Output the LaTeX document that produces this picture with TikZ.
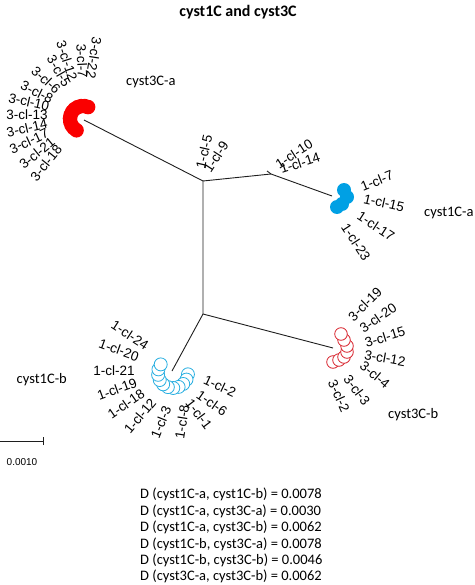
\documentclass[tikz,border=0pt]{standalone}
\usepackage{fontspec}
\setmainfont{Liberation Sans}
\newfontfamily\calfont{Carlito}
\definecolor{redA}{RGB}{250,0,0}
\definecolor{blueA}{RGB}{0,160,228}
\definecolor{cyanB}{RGB}{40,175,225}
\definecolor{redB}{RGB}{215,30,40}
\definecolor{branch}{RGB}{30,30,30}
\begin{document}
\begin{tikzpicture}[x=1pt,y=-1pt,
  lab/.style={inner sep=0pt,font=\fontsize{13.5}{15}\selectfont},
  grp/.style={inner sep=0pt,anchor=west,font=\calfont\fontsize{14.5}{16}\selectfont},
  edge/.style={draw=branch,line width=0.9pt},
  dot/.style={fill=redA},
  bdot/.style={fill=blueA},
  ring/.style={draw=cyanB,fill=white,line width=0.8pt},
  rring/.style={draw=redB,fill=white,line width=0.8pt}]
\useasboundingbox (0,0) rectangle (474,585);
% title
\node[inner sep=0pt,font=\calfont\bfseries\fontsize{16}{18}\selectfont] (title) at (238,12) {cyst1C and cyst3C};
% tree coordinates
\coordinate (A) at (203,181);
\coordinate (B) at (271,174);
\coordinate (Bs) at (267,171);
\coordinate (C) at (203,314);
\coordinate (ra) at (84,120);
\coordinate (ba) at (332,196);
\coordinate (cb) at (172,371);
\coordinate (rb) at (333,348);
\draw[edge] (ra) -- (A) -- (B) -- (ba);
\draw[edge] (Bs) -- (B);
\draw[edge] (A) -- (C) -- (cb);
\draw[edge] (C) -- (rb);
% cyst3C-a cluster (filled red)
\foreach \i in {0,...,11}
  \fill[dot] ({83+13*cos(293-\i*15.73)},{119+13*sin(293-\i*15.73)}) circle[radius=7.3];
% cyst1C-a cluster (filled blue)
\fill[bdot] (337,207) circle[radius=7];
\fill[bdot] (342,204) circle[radius=7];
\fill[bdot] (347,197) circle[radius=7];
\fill[bdot] (344,190) circle[radius=7];
% cyst1C-b cluster (open cyan)
\foreach \i in {10,...,0}
  \draw[ring] ({173+15*cos(215-\i*21)},{373+15*sin(215-\i*21)}) circle[radius=6.5];
% cyst3C-b cluster (open red)
\foreach \p in {(333,362),(339,360),(344,357),(347,352),(347,346),(344,340),(341,334)}
  \draw[rring] \p circle[radius=6.3];
% labels cyst3C-a
\node[lab,rotate=-99] (a22) at (94,58) {3-cl-22};
\node[lab,rotate=-87] (a7) at (82,61) {3-cl-7};
\node[lab,rotate=-72] (a12) at (67,61) {3-cl-12};
\node[lab,rotate=-60] (a5) at (59,71) {3-cl-5};
\node[lab,rotate=-43] (a6) at (46,80) {3-cl-6};
\node[lab,rotate=-26] (a8) at (37,92) {3-cl-8};
\node[lab,rotate=-13] (a10) at (29,102) {3-cl-10};
\node[lab,rotate=0] (a13) at (27,115) {3-cl-13};
\node[lab,rotate=13] (a14) at (27,128) {3-cl-14};
\node[lab,rotate=25] (a17) at (29,141) {3-cl-17};
\node[lab,rotate=39] (a21) at (37,153) {3-cl-21};
\node[lab,rotate=51] (a18) at (46,163) {3-cl-18};
% labels near A and B
\node[lab,rotate=77] (b5) at (204,152) {1-cl-5};
\node[lab,rotate=57] (b9) at (216,157) {1-cl-9};
\node[lab,rotate=33] (b10) at (294,154) {1-cl-10};
\node[lab,rotate=18] (b14) at (300,163) {1-cl-14};
% labels cyst1C-a
\node[lab,rotate=22] (c7) at (377,181) {1-cl-7};
\node[lab,rotate=-13] (c15) at (384,203) {1-cl-15};
\node[lab,rotate=-33] (c17) at (376,226) {1-cl-17};
\node[lab,rotate=-57] (c23) at (356,242) {1-cl-23};
% labels cyst1C-b
\node[lab,rotate=-33] (d24) at (130,335) {1-cl-24};
\node[lab,rotate=-20] (d20) at (119,350) {1-cl-20};
\node[lab,rotate=0] (d21) at (114,371) {1-cl-21};
\node[lab,rotate=20] (d19) at (117,389) {1-cl-19};
\node[lab,rotate=35] (d18) at (126,404) {1-cl-18};
\node[lab,rotate=50] (d12) at (140,416) {1-cl-12};
\node[lab,rotate=68] (d3) at (161,422) {1-cl-3};
\node[lab,rotate=81] (d8) at (182,422) {1-cl-8};
\node[lab,rotate=-53] (d1) at (199,414) {1-cl-1};
\node[lab,rotate=-35] (d6) at (212,403) {1-cl-6};
\node[lab,rotate=-25] (d2) at (220,386) {1-cl-2};
% labels cyst3C-b
\node[lab,rotate=45] (e19) at (365,304) {3-cl-19};
\node[lab,rotate=35] (e20) at (378,318) {3-cl-20};
\node[lab,rotate=17] (e15) at (385,337) {3-cl-15};
\node[lab,rotate=-10] (e12) at (385,358) {3-cl-12};
\node[lab,rotate=-40] (e4) at (375,375) {3-cl-4};
\node[lab,rotate=-53] (e3) at (357,390) {3-cl-3};
\node[lab,rotate=-66] (e2) at (339,396) {3-cl-2};
% group names
\node[grp] (g3a) at (126,82) {cyst3C-a};
\node[grp] (g1a) at (424,213) {cyst1C-a};
\node[grp,anchor=east] (g1b) at (67,380) {cyst1C-b};
\node[grp] (g3b) at (388,415) {cyst3C-b};
% scale bar
\coordinate (s0) at (0,441);
\coordinate (s1) at (43,441);
\draw[edge,line width=0.8pt] (s0) -- (s1);
\draw[edge,line width=0.8pt] ([yshift=-4pt]s1) -- ([yshift=4pt]s1);
\node[inner sep=0pt,font=\fontsize{10}{12}\selectfont] (sl) at (22,462) {0.0010};
% distances
\node[inner sep=0pt,anchor=north west,align=left,font=\calfont\fontsize{14.5}{16.4}\selectfont] (dist) at (140,488)
{D (cyst1C-a, cyst1C-b) = 0.0078\\
D (cyst1C-a, cyst3C-a) = 0.0030\\
D (cyst1C-a, cyst3C-b) = 0.0062\\
D (cyst1C-b, cyst3C-a) = 0.0078\\
D (cyst1C-b, cyst3C-b) = 0.0046\\
D (cyst3C-a, cyst3C-b) = 0.0062};
\end{tikzpicture}
\end{document}
